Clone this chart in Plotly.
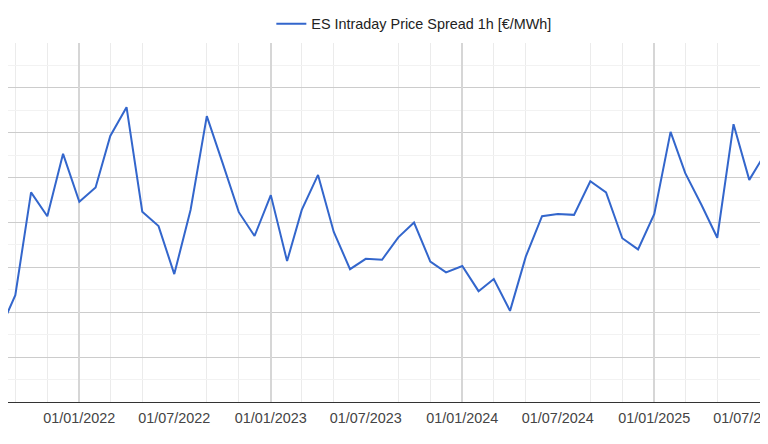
import plotly.graph_objects as go

# monthly spread, first of each month
months = [
    "2021-08-01", "2021-09-01", "2021-10-01", "2021-11-01", "2021-12-01",
    "2022-01-01", "2022-02-01", "2022-03-01", "2022-04-01", "2022-05-01", "2022-06-01",
    "2022-07-01", "2022-08-01", "2022-09-01", "2022-10-01", "2022-11-01", "2022-12-01",
    "2023-01-01", "2023-02-01", "2023-03-01", "2023-04-01", "2023-05-01", "2023-06-01",
    "2023-07-01", "2023-08-01", "2023-09-01", "2023-10-01", "2023-11-01", "2023-12-01",
    "2024-01-01", "2024-02-01", "2024-03-01", "2024-04-01", "2024-05-01", "2024-06-01",
    "2024-07-01", "2024-08-01", "2024-09-01", "2024-10-01", "2024-11-01", "2024-12-01",
    "2025-01-01", "2025-02-01", "2025-03-01", "2025-04-01", "2025-05-01", "2025-06-01",
    "2025-07-01", "2025-08-01", "2025-09-01",
]
spread = [
    15.6, 23.8, 46.7, 41.4, 55.3,
    44.6, 47.8, 59.3, 65.7, 42.4, 39.2,
    28.5, 42.8, 63.7, 53.3, 42.3, 37.0,
    46.1, 31.4, 42.8, 50.6, 37.9, 29.6,
    31.9, 31.7, 36.7, 40.0, 31.3, 28.9,
    30.3, 24.7, 27.4, 20.3, 32.4, 41.4,
    41.9, 41.7, 49.2, 46.7, 36.5, 34.0,
    41.9, 60.2, 51.0, 43.9, 36.6, 61.9,
    49.5, 55.5, 58.0,
]
series_name = "ES Intraday Price Spread 1h [€/MWh]"

# first tick label sits just left of the visible window
offscreen_tick = "2021-07-01"
offscreen_label = "01/07/2021"

# the page body adds 8px round the figure, so the window starts a bit later
x_range = ["2021-08-18 01:00", "2025-08-05 17:00"]
y_range = [0, 80]

fig = go.Figure()
# invisible copy so the yearly grid axis gets drawn
fig.add_trace(go.Scatter(x=months, y=spread, xaxis="x2", mode="lines",
                         line=dict(width=0), opacity=0,
                         showlegend=False, hoverinfo="skip"))
fig.add_trace(go.Scatter(x=months, y=spread, mode="lines", name=series_name,
                         line=dict(color="#3366cc", width=2)))

tick_font = dict(family="Liberation Sans, Arial", size=14.4, color="#444444")

fig.add_annotation(x=offscreen_tick, xref="x", y=0, yref="paper",
                   text=offscreen_label, showarrow=False,
                   yanchor="middle", yshift=-16, font=tick_font)

fig.update_layout(
    width=760, height=428,
    margin=dict(l=0, r=0, t=35, b=34),
    paper_bgcolor="white", plot_bgcolor="white",
    font=dict(family="Liberation Sans, Arial", size=14.4, color="#222222"),
    legend=dict(orientation="h", x=0.534, xanchor="center", y=1.053, yanchor="middle",
                font=dict(size=14.4, color="#222222"),
                itemwidth=30, bgcolor="rgba(0,0,0,0)"),
    xaxis=dict(
        type="date", range=x_range, automargin=False,
        tick0="2021-07-01", dtick="M6", tickformat="%d/%m/%Y",
        ticks="", ticklen=0, ticklabelstandoff=3,
        ticklabeloverflow="allow",
        tickfont=tick_font,
        showgrid=False, zeroline=False,
        showline=True, linecolor="#333333", linewidth=1,
        minor=dict(dtick="M2", tick0="2021-07-01", showgrid=True,
                   gridcolor="#ebebeb", gridwidth=1),
    ),
    xaxis2=dict(
        type="date", range=x_range, overlaying="x", anchor="y",
        tick0="2022-01-01", dtick="M12", automargin=False,
        showgrid=True, gridcolor="#d6d6d6", gridwidth=1.5,
        showticklabels=False, zeroline=False, showline=False,
    ),
    yaxis=dict(
        range=y_range, dtick=10, showticklabels=False, automargin=False,
        showgrid=True, gridcolor="#cccccc", gridwidth=1,
        zeroline=False,
        minor=dict(dtick=5, showgrid=True, gridcolor="#f2f2f2", gridwidth=1),
    ),
)

fig.write_html("out.html")
